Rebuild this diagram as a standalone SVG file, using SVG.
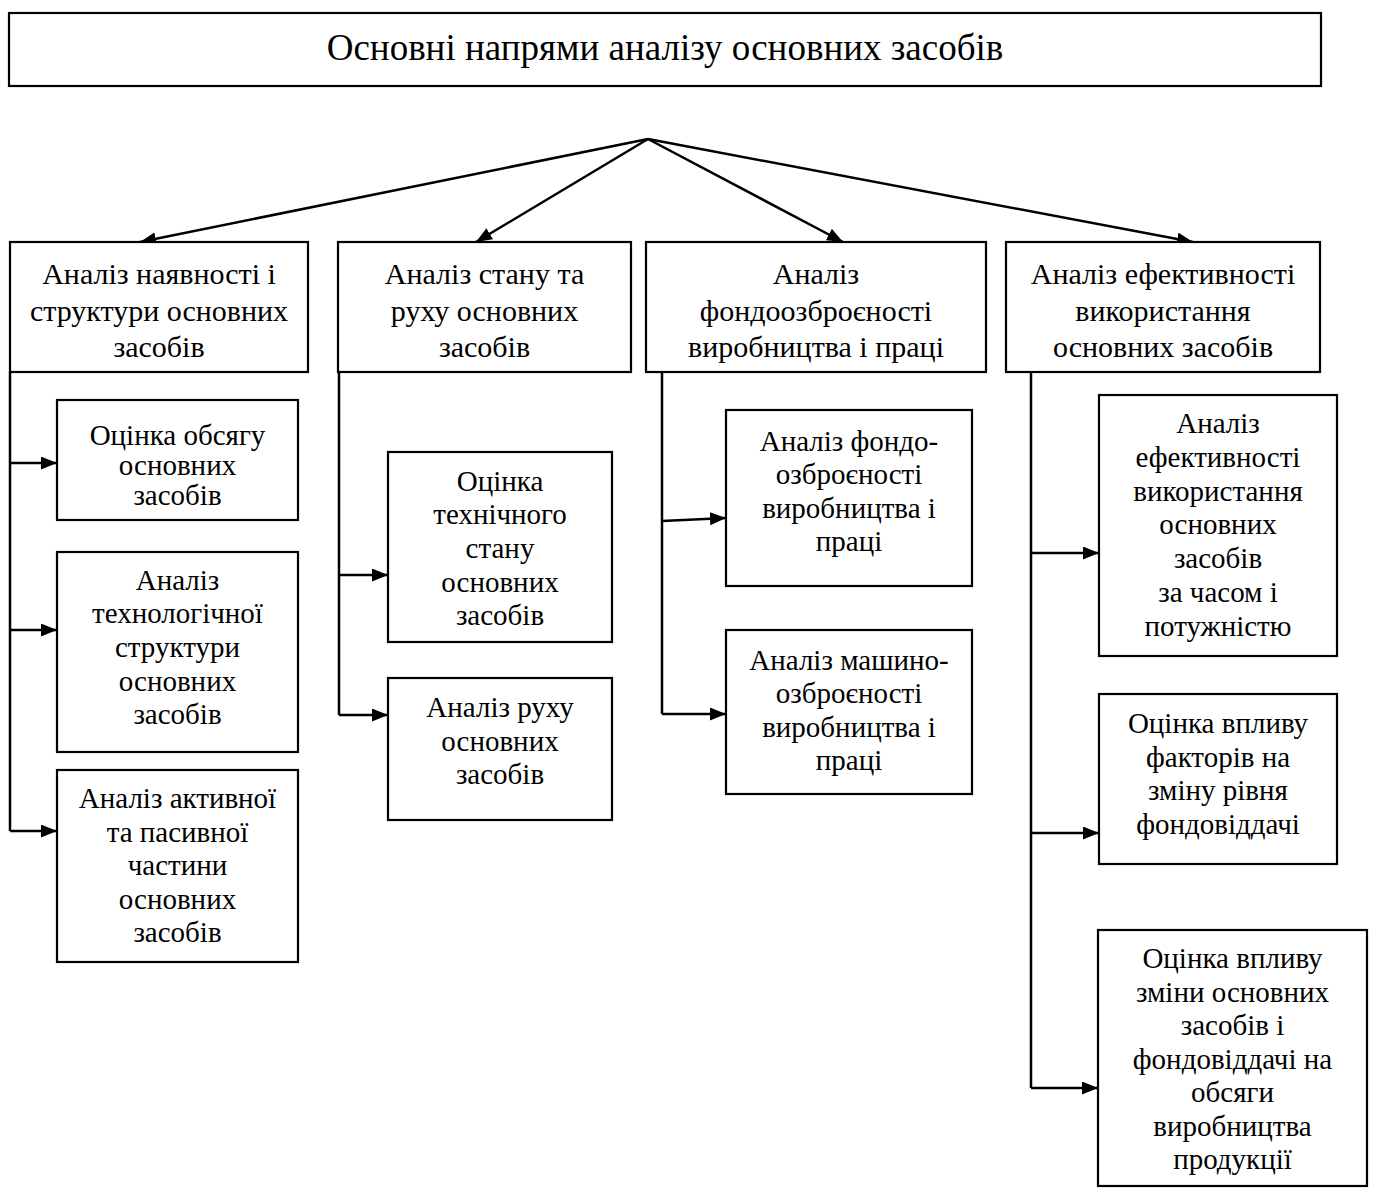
<svg xmlns="http://www.w3.org/2000/svg" width="1373" height="1189" viewBox="0 0 1373 1189">
<defs>
<marker id="ah" markerUnits="userSpaceOnUse" markerWidth="18" markerHeight="14" refX="16" refY="6.5" orient="auto">
<path d="M0,0 L16,6.5 L0,13 z" fill="#000"/>
</marker>
<style>
.box{fill:#fff;stroke:#000;stroke-width:2.2}
text{font-family:'Liberation Serif','Times New Roman',serif;fill:#000;text-anchor:middle}
.tt{font-size:37px}
.tb{font-size:30px}
.tc{font-size:29px}
.c{fill:none;stroke:#000;stroke-width:2.5}
.ca{fill:none;stroke:#000;stroke-width:2.5;marker-end:url(#ah)}
</style>
</defs>
<rect width="1373" height="1189" fill="#fff"/>

<g id="connectors">
<path class="ca" d="M648,139 L140,242"/>
<path class="ca" d="M648,139 L476,242"/>
<path class="ca" d="M648,139 L843,242"/>
<path class="ca" d="M648,139 L1193,242"/>
<path class="c" d="M10,372 V831"/>
<path class="ca" d="M10,463 H57"/>
<path class="ca" d="M10,630 H57"/>
<path class="ca" d="M10,831 H57"/>
<path class="c" d="M339,372 V715"/>
<path class="ca" d="M339,575 H388"/>
<path class="ca" d="M339,715 H388"/>
<path class="c" d="M662,372 V714"/>
<path class="ca" d="M662,521 L726,518"/>
<path class="ca" d="M662,714 H726"/>
<path class="c" d="M1031,372 V1088"/>
<path class="ca" d="M1031,553 H1099"/>
<path class="ca" d="M1031,833 H1099"/>
<path class="ca" d="M1031,1088 H1098"/>
</g>

<g id="title">
<rect class="box" x="9" y="13" width="1312" height="73"/>
<text class="tt" x="665" y="60">Основні напрями аналізу основних засобів</text>
</g>

<g id="b1">
<rect class="box" x="10" y="242" width="298" height="130"/>
<text class="tb"><tspan x="159" y="284">Аналіз наявності і</tspan><tspan x="159" y="321">структури основних</tspan><tspan x="159" y="357">засобів</tspan></text>
</g>
<g id="b2">
<rect class="box" x="338" y="242" width="293" height="130"/>
<text class="tb"><tspan x="484.5" y="284">Аналіз стану та</tspan><tspan x="484.5" y="321">руху основних</tspan><tspan x="484.5" y="357">засобів</tspan></text>
</g>
<g id="b3">
<rect class="box" x="646" y="242" width="340" height="130"/>
<text class="tb"><tspan x="816" y="284">Аналіз</tspan><tspan x="816" y="321">фондоозброєності</tspan><tspan x="816" y="357">виробництва і праці</tspan></text>
</g>
<g id="b4">
<rect class="box" x="1006" y="242" width="314" height="130"/>
<text class="tb"><tspan x="1163" y="284">Аналіз ефективності</tspan><tspan x="1163" y="321">використання</tspan><tspan x="1163" y="357">основних засобів</tspan></text>
</g>

<g id="c1">
<rect class="box" x="57" y="400" width="241" height="120"/>
<text class="tc"><tspan x="177.5" y="445">Оцінка обсягу</tspan><tspan x="177.5" y="475">основних</tspan><tspan x="177.5" y="505">засобів</tspan></text>
</g>
<g id="c2">
<rect class="box" x="57" y="552" width="241" height="200"/>
<text class="tc"><tspan x="177.5" y="590">Аналіз</tspan><tspan x="177.5" y="623">технологічної</tspan><tspan x="177.5" y="657">структури</tspan><tspan x="177.5" y="691">основних</tspan><tspan x="177.5" y="724">засобів</tspan></text>
</g>
<g id="c3">
<rect class="box" x="57" y="770" width="241" height="192"/>
<text class="tc"><tspan x="177.5" y="808">Аналіз активної</tspan><tspan x="177.5" y="842">та пасивної</tspan><tspan x="177.5" y="875">частини</tspan><tspan x="177.5" y="909">основних</tspan><tspan x="177.5" y="942">засобів</tspan></text>
</g>
<g id="c4">
<rect class="box" x="388" y="452" width="224" height="190"/>
<text class="tc"><tspan x="500" y="491">Оцінка</tspan><tspan x="500" y="524">технічного</tspan><tspan x="500" y="558">стану</tspan><tspan x="500" y="592">основних</tspan><tspan x="500" y="625">засобів</tspan></text>
</g>
<g id="c5">
<rect class="box" x="388" y="678" width="224" height="142"/>
<text class="tc"><tspan x="500" y="717">Аналіз руху</tspan><tspan x="500" y="751">основних</tspan><tspan x="500" y="784">засобів</tspan></text>
</g>
<g id="c6">
<rect class="box" x="726" y="410" width="246" height="176"/>
<text class="tc"><tspan x="849" y="451">Аналіз фондо-</tspan><tspan x="849" y="484">озброєності</tspan><tspan x="849" y="518">виробництва і</tspan><tspan x="849" y="551">праці</tspan></text>
</g>
<g id="c7">
<rect class="box" x="726" y="630" width="246" height="164"/>
<text class="tc"><tspan x="849" y="670">Аналіз машино-</tspan><tspan x="849" y="703">озброєності</tspan><tspan x="849" y="737">виробництва і</tspan><tspan x="849" y="770">праці</tspan></text>
</g>
<g id="c8">
<rect class="box" x="1099" y="395" width="238" height="261"/>
<text class="tc"><tspan x="1218" y="433">Аналіз</tspan><tspan x="1218" y="467">ефективності</tspan><tspan x="1218" y="501">використання</tspan><tspan x="1218" y="534">основних</tspan><tspan x="1218" y="568">засобів</tspan><tspan x="1218" y="602">за часом і</tspan><tspan x="1218" y="636">потужністю</tspan></text>
</g>
<g id="c9">
<rect class="box" x="1099" y="694" width="238" height="170"/>
<text class="tc"><tspan x="1218" y="733">Оцінка впливу</tspan><tspan x="1218" y="767">факторів на</tspan><tspan x="1218" y="800">зміну рівня</tspan><tspan x="1218" y="834">фондовіддачі</tspan></text>
</g>
<g id="c10">
<rect class="box" x="1098" y="930" width="269" height="256"/>
<text class="tc"><tspan x="1232.5" y="968">Оцінка впливу</tspan><tspan x="1232.5" y="1001.5">зміни основних</tspan><tspan x="1232.5" y="1035">засобів і</tspan><tspan x="1232.5" y="1068.5">фондовіддачі на</tspan><tspan x="1232.5" y="1102">обсяги</tspan><tspan x="1232.5" y="1135.5">виробництва</tspan><tspan x="1232.5" y="1169">продукції</tspan></text>
</g>
</svg>
